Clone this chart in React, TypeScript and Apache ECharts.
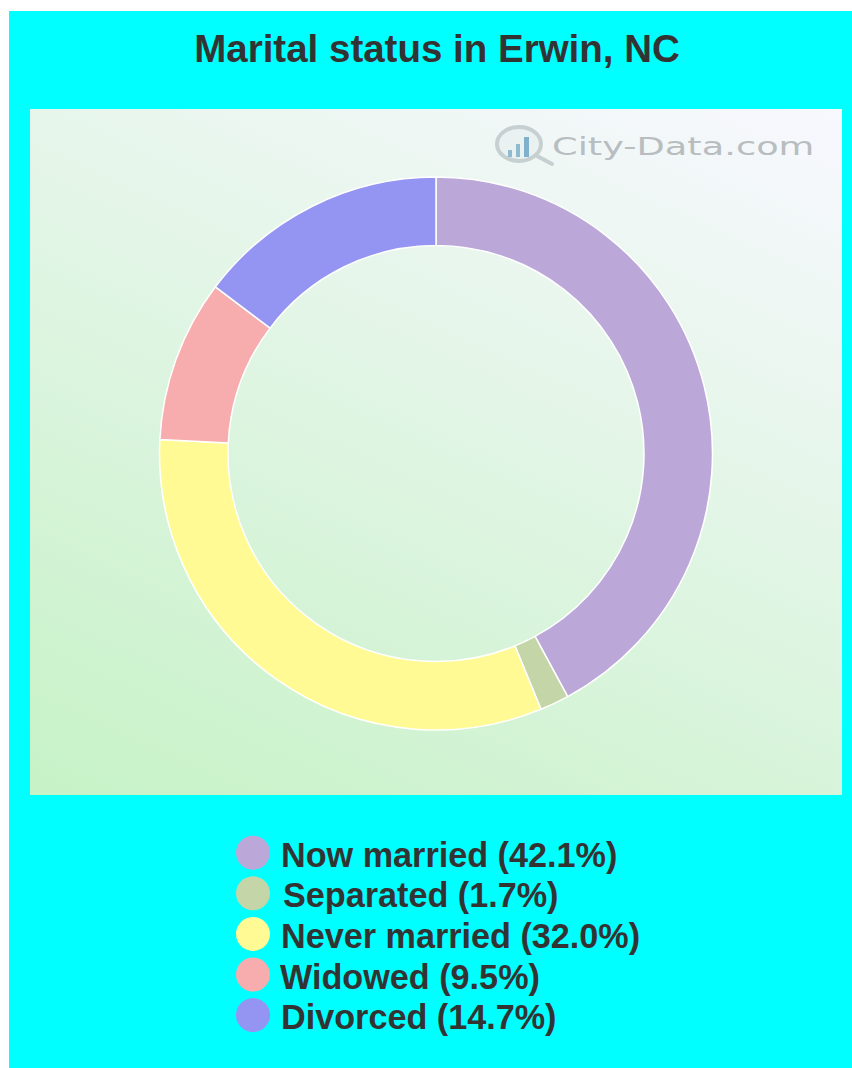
import React, { useEffect, useRef } from "react";
import * as echarts from "echarts";

const TITLE = "Marital status in Erwin, NC";
const WATERMARK = "City-Data.com";
const categories = ["Now married", "Separated", "Never married", "Widowed", "Divorced"];
const shares = [42.1, 1.7, 32.0, 9.5, 14.7];
const colors = ["#BBA8D9", "#C4D6A8", "#FFFA94", "#F7ADAD", "#9494F2"];

const legendTextShift: Record<string, number> = { Separated: 8, Widowed: 5 };

export default function App() {
  const ref = useRef<HTMLDivElement>(null);
  useEffect(() => {
    document.body.style.margin = "0";
    const chart = echarts.init(ref.current!, null, { renderer: "svg" });
    chart.setOption({
      animation: false,
      backgroundColor: "#ffffff",
      title: {
        text: TITLE,
        left: 432,
        top: 24,
        textAlign: "center",
        textStyle: { fontFamily: "Liberation Sans", fontWeight: "bold", fontSize: 38.5, color: "#333333" },
      },
      graphic: [
        { type: "rect", z: -10, shape: { x: 9, y: 11, width: 843, height: 1057 }, style: { fill: "#00FFFF" } },
        {
          type: "rect",
          z: -9,
          shape: { x: 30, y: 109, width: 812, height: 686 },
          style: {
            fill: {
              type: "linear", global: true, x: 30, y: 795, x2: 427, y2: -79,
              colorStops: [
                { offset: 0, color: "#C6F2C6" },
                { offset: 1, color: "#F8F8FF" },
              ],
            },
          },
        },
        { type: "ellipse", z: -8, shape: { cx: 519, cy: 144, rx: 22, ry: 17 }, style: { fill: "rgba(230,238,238,0.6)", stroke: "#C6D0D0", lineWidth: 4 } },
        { type: "line", z: -8, shape: { x1: 537, y1: 156, x2: 552, y2: 164 }, style: { stroke: "#C6D0D0", lineWidth: 4, lineCap: "round" } },
        { type: "rect", z: -7, shape: { x: 508, y: 150, width: 4, height: 7 }, style: { fill: "#8FBBD0" } },
        { type: "rect", z: -7, shape: { x: 516, y: 144, width: 4, height: 13 }, style: { fill: "#8FBBD0" } },
        { type: "rect", z: -7, shape: { x: 524, y: 137, width: 5, height: 20 }, style: { fill: "#7FB0CC" } },
        {
          type: "text", z: -7, x: 552, y: 134, scaleX: 1.47,
          style: { text: WATERMARK, fontFamily: "DejaVu Sans", fontSize: 25, fill: "#B8BDBF", textVerticalAlign: "top" },
        },
      ],
      legend: {
        orient: "vertical",
        left: 236,
        top: 833.7,
        padding: 0,
        itemWidth: 34,
        itemHeight: 34,
        itemGap: 2.6,
        icon: "circle",
        selectedMode: false,
        itemStyle: { borderWidth: 0 },
        data: categories,
        formatter: (name: string) => {
          const label = `${name} (${shares[categories.indexOf(name)].toFixed(1)}%)`;
          const style = name === "Separated" ? "s" : name === "Widowed" ? "w" : "n";
          return `{${style}|${label}}`;
        },
        textStyle: {
          fontFamily: "Liberation Sans",
          fontWeight: "bold",
          fontSize: 34.2,
          color: "#333333",
          rich: Object.fromEntries(
            [["n", 6], ["s", legendTextShift.Separated], ["w", legendTextShift.Widowed]].map(([key, left]) => [
              key,
              {
                fontFamily: "Liberation Sans",
                fontWeight: "bold",
                fontSize: 34.2,
                color: "#333333",
                lineHeight: 30,
                padding: [4, 0, 0, left],
              },
            ])
          ),
        },
      },
      series: [
        {
          type: "pie",
          center: [436, 453.5],
          radius: [208, 276.5],
          startAngle: 90,
          clockwise: true,
          label: { show: false },
          labelLine: { show: false },
          emphasis: { disabled: true },
          itemStyle: { borderColor: "#ffffff", borderWidth: 1.5 },
          data: categories.map((name, i) => ({ name, value: shares[i], itemStyle: { color: colors[i] } })),
        },
      ],
    });
    return () => chart.dispose();
  }, []);
  return <div ref={ref} style={{ position: "absolute", left: 0, top: 0, width: 852, height: 1068 }} />;
}
